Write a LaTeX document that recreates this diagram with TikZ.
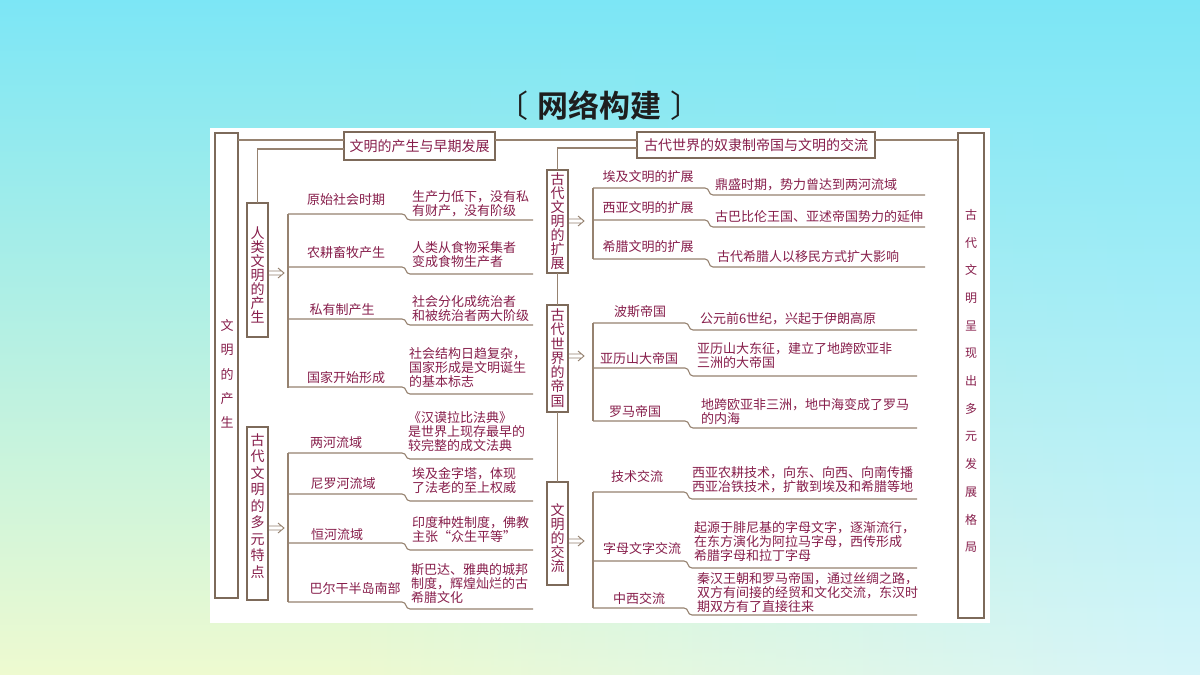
\documentclass[tikz,border=0pt]{standalone}
\usepackage{fontspec}
\newfontfamily\cjk{Noto Sans CJK SC}[BoldFont={Noto Sans CJK SC Bold}]
\usetikzlibrary{arrows.meta,fadings}
\definecolor{txt}{RGB}{135,30,75}
\definecolor{ln}{RGB}{150,130,112}
\definecolor{bx}{RGB}{125,106,90}
\definecolor{bgtop}{RGB}{124,230,246}
\definecolor{bgmid}{RGB}{186,242,230}
\definecolor{bgbot}{RGB}{238,250,208}
\definecolor{bgright}{RGB}{214,245,250}
\definecolor{titlec}{RGB}{30,30,30}
\tikzset{
  every node/.style={inner sep=0pt, outer sep=0pt},
  lab/.style={font=\cjk\fontsize{13}{14}\selectfont, text=txt},
  desc/.style={font=\cjk\fontsize{13}{14}\selectfont, text=txt, anchor=west, align=left},
  frame/.style={draw=bx, line width=1.1pt, fill=white},
  vtext/.style={font=\cjk\fontsize{14}{#1}\selectfont, text=txt, align=center},
  link/.style={draw=ln, line width=1.1pt},
  dblarw/.style={draw=ln, line width=0.9pt, line join=miter},
}
\newcommand\uline[5]{\draw[link] (#1,#2) -- (#3,#2) .. controls (#3+5,#2) and (#3+3,#4) .. (#3+8,#4) -- (#5,#4);}
\newcommand\implarrow[1]{\draw[dblarw] #1 ++(0,-2) -- ++(12,0) ++(-12,4) -- ++(12,0) ++(-3,-7) -- ++(6,5) -- ++(-6,5);}
\begin{document}
\begin{tikzpicture}[x=1pt,y=-1pt]
% background
\shade[top color=bgtop, middle color=bgmid, bottom color=bgbot] (0,0) rectangle (1200,675);
\shade[top color=bgtop, bottom color=bgright, path fading=west] (350,0) rectangle (1200,675);
\useasboundingbox (0,0) rectangle (1200,675);
% title
\node[font=\cjk\bfseries\fontsize{31}{31}\selectfont, text=titlec] (title) at (599,106) {{\mdseries 〔}\hspace{9pt}网络构建\hspace{9pt}{\mdseries 〕}};
% panel
\fill[white] (210,128) rectangle (990,623);
% big boxes
\node[frame, minimum width=23, minimum height=465] (L) at (226.5,365.5) {};
\node[font=\cjk\fontsize{13}{24.3}\selectfont, text=txt, align=center] (Lt) at (227,374) {文\\明\\的\\产\\生};
\node[frame, minimum width=26, minimum height=485] (R) at (971,375.5) {};
\node[font=\cjk\fontsize{12}{27.7}\selectfont, text=txt, align=center] (Rt) at (971,381) {古\\代\\文\\明\\呈\\现\\出\\多\\元\\发\\展\\格\\局};
\node[frame, minimum width=151, minimum height=28] (T1) at (419.5,146) {};
\node[font=\cjk\fontsize{14}{14}\selectfont, text=txt] (T1t) at (419.5,146) {文明的产生与早期发展};
\node[frame, minimum width=238, minimum height=26] (T2) at (756,145) {};
\node[font=\cjk\fontsize{14}{14}\selectfont, text=txt] (T2t) at (756,145) {古代世界的奴隶制帝国与文明的交流};
% sub boxes
\node[frame, minimum width=21, minimum height=134] (B1) at (257.5,270) {};
\node[vtext=14] (B1t) at (257.5,275) {人\\类\\文\\明\\的\\产\\生};
\node[frame, minimum width=21, minimum height=173] (B2) at (257.5,513.5) {};
\node[vtext=16.5] (B2t) at (257.5,506) {古\\代\\文\\明\\的\\多\\元\\特\\点};
\node[frame, minimum width=21, minimum height=103] (M1) at (557.5,221.5) {};
\node[vtext=14] (M1t) at (557.5,221) {古\\代\\文\\明\\的\\扩\\展};
\node[frame, minimum width=21, minimum height=107] (M2) at (557.5,358.5) {};
\node[vtext=14.3] (M2t) at (557.5,358) {古\\代\\世\\界\\的\\帝\\国};
\node[frame, minimum width=21, minimum height=103] (M3) at (557.5,533.5) {};
\node[vtext=14] (M3t) at (557.5,538) {文\\明\\的\\交\\流};
% top connectors
\draw[link] (L.east |- 0,140) -- (T1.west |- 0,140);
\draw[link] (T1.east |- 0,140) -- (T2.west |- 0,140);
\draw[link] (T2.east |- 0,140) -- (R.west |- 0,140);
\draw[link] (B1.north) |- (T1.west |- 0,149);
\draw[link] (M1.north) |- (T2.west |- 0,148);
\draw[link] (M1.south) -- (M2.north);
\draw[link] (M2.south) -- (M3.north);
% double arrows
\implarrow{([xshift=1pt]B1.east |- 0,273)}
\implarrow{([xshift=1pt]B2.east |- 0,528)}
\implarrow{([xshift=1pt]M1.east |- 0,221)}
\implarrow{([xshift=1pt]M2.east |- 0,356)}
\implarrow{([xshift=1pt]M3.east |- 0,541)}
% left group 1
\draw[link] (288,214) -- (288,388);
\uline{288}{214}{402}{220}{533}
\uline{288}{267}{402}{274}{533}
\uline{288}{319}{402}{325}{533}
\uline{288}{387}{402}{394}{533}
\node[lab] (a1) at (346,200) {原始社会时期};
\node[desc] (a2) at (412,203.5) {生产力低下，没有私\\有财产，没有阶级};
\node[lab] (b1) at (346,253) {农耕畜牧产生};
\node[desc] (b2) at (412,254.5) {人类从食物采集者\\变成食物生产者};
\node[lab] (c1) at (342,310) {私有制产生};
\node[desc] (c2) at (412,309) {社会分化成统治者\\和被统治者两大阶级};
\node[lab] (d1) at (346,378) {国家开始形成};
\node[desc] (d2) at (409,368) {社会结构日趋复杂，\\国家形成是文明诞生\\的基本标志};
% left group 2
\draw[link] (288,453) -- (288,602);
\uline{288}{453}{402}{459}{533}
\uline{288}{494}{402}{501}{533}
\uline{288}{543}{402}{550}{533}
\uline{288}{602}{402}{609}{533}
\node[lab] (e1) at (336,443) {两河流域};
\node[desc] (e2) at (408,432) {《汉谟拉比法典》\\是世界上现存最早的\\较完整的成文法典};
\node[lab] (f1) at (343,484) {尼罗河流域};
\node[desc] (f2) at (412,481) {埃及金字塔，体现\\了法老的至上权威};
\node[lab] (g1) at (337,535) {恒河流域};
\node[desc] (g2) at (412,530) {印度种姓制度，佛教\\主张“众生平等”};
\node[lab] (h1) at (355,589) {巴尔干半岛南部};
\node[desc] (h2) at (411,584) {斯巴达、雅典的城邦\\制度，辉煌灿烂的古\\希腊文化};
% right group 1
\draw[link] (593,188) -- (593,259);
\uline{593}{188}{705}{195}{925}
\uline{593}{220}{705}{227}{925}
\uline{593}{259}{705}{267}{925}
\node[lab] (i1) at (648,177) {埃及文明的扩展};
\node[desc] (i2) at (715,185) {鼎盛时期，势力曾达到两河流域};
\node[lab] (j1) at (648,208) {西亚文明的扩展};
\node[desc] (j2) at (715,217) {古巴比伦王国、亚述帝国势力的延伸};
\node[lab] (k1) at (648,247) {希腊文明的扩展};
\node[desc] (k2) at (717,257) {古代希腊人以移民方式扩大影响};
% right group 2
\draw[link] (593,323) -- (593,421);
\uline{593}{323}{685}{330}{917}
\uline{593}{368}{685}{376}{917}
\uline{593}{421}{685}{428}{917}
\node[lab] (l1) at (640,312) {波斯帝国};
\node[desc] (l2) at (700,319) {公元前6世纪，兴起于伊朗高原};
\node[lab] (m1) at (639,359) {亚历山大帝国};
\node[desc] (m2) at (697,356) {亚历山大东征，建立了地跨欧亚非\\三洲的大帝国};
\node[lab] (n1) at (635,412) {罗马帝国};
\node[desc] (n2) at (701,412) {地跨欧亚非三洲，地中海变成了罗马\\的内海};
% right group 3
\draw[link] (593,492) -- (593,608);
\uline{593}{492}{684}{499}{917}
\uline{593}{561}{684}{568}{917}
\uline{593}{608}{684}{615}{917}
\node[lab] (o1) at (637,477) {技术交流};
\node[desc] (o2) at (692,480) {西亚农耕技术，向东、向西、向南传播\\西亚冶铁技术，扩散到埃及和希腊等地};
\node[lab] (p1) at (642,549) {字母文字交流};
\node[desc] (p2) at (694,542) {起源于腓尼基的字母文字，逐渐流行，\\在东方演化为阿拉马字母，西传形成\\希腊字母和拉丁字母};
\node[lab] (q1) at (639,599) {中西交流};
\node[desc] (q2) at (697,593) {秦汉王朝和罗马帝国，通过丝绸之路，\\双方有间接的经贸和文化交流，东汉时\\期双方有了直接往来};
\end{tikzpicture}
\end{document}
